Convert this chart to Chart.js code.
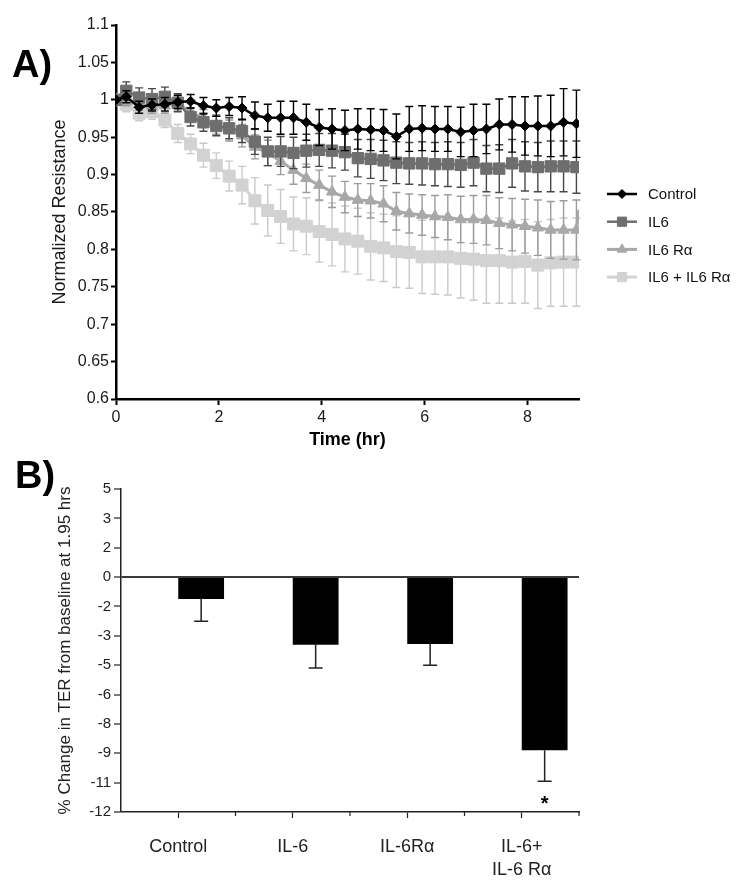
<!DOCTYPE html>
<html>
<head>
<meta charset="utf-8">
<script src="https://cdn.jsdelivr.net/npm/chart.js@4.4.1/dist/chart.umd.min.js"></script>
<style>
  body { margin:0; background:#fff; width:750px; height:890px; position:relative; overflow:hidden; font-family:"Liberation Sans", Arial, sans-serif; }
  canvas { position:absolute; left:0; }
  #chartA { top:0; }
  #chartB { top:455px; }
  .panel { position:absolute; font-weight:bold; font-size:38px; line-height:38px; color:#000; }
</style>
</head>
<body>
<canvas id="chartA" width="750" height="455"></canvas>
<canvas id="chartB" width="750" height="435"></canvas>
<div class="panel" style="left:12px;top:45px">A)</div>
<div class="panel" style="left:15px;top:456px">B)</div>
<script>
// ---- panel A data (normalized resistance over time) ----
const times = [0, 0.2, 0.45, 0.7, 0.95, 1.2, 1.45, 1.7, 1.95, 2.2, 2.45, 2.7, 2.95, 3.2, 3.45, 3.7, 3.95,
  4.2, 4.45, 4.7, 4.95, 5.2, 5.45, 5.7, 5.95, 6.2, 6.45, 6.7, 6.95, 7.2, 7.45, 7.7, 7.95, 8.2, 8.45, 8.7, 8.95];

const control = [1.000, 1.004, 0.990, 0.993, 0.994, 0.997, 0.998, 0.992, 0.989, 0.991, 0.989, 0.979, 0.976,
  0.976, 0.976, 0.970, 0.963, 0.961, 0.959, 0.961, 0.960, 0.959, 0.951, 0.961, 0.962, 0.961, 0.961, 0.957,
  0.959, 0.961, 0.967, 0.967, 0.965, 0.965, 0.965, 0.970, 0.968];
const controlErr = [0, 0.008, 0.008, 0.008, 0.009, 0.009, 0.009, 0.011, 0.011, 0.012, 0.015, 0.018, 0.018,
  0.022, 0.022, 0.024, 0.024, 0.027, 0.027, 0.027, 0.028, 0.028, 0.030, 0.030, 0.030, 0.030, 0.030, 0.033,
  0.035, 0.033, 0.034, 0.037, 0.039, 0.040, 0.041, 0.045, 0.045];

const il6 = [1.000, 1.012, 1.003, 1.001, 1.004, 0.996, 0.977, 0.970, 0.965, 0.962, 0.958, 0.944, 0.931,
  0.931, 0.929, 0.932, 0.933, 0.932, 0.930, 0.922, 0.921, 0.919, 0.916, 0.915, 0.915, 0.914, 0.914, 0.913,
  0.916, 0.908, 0.908, 0.915, 0.911, 0.910, 0.911, 0.911, 0.910];
const il6Err = [0, 0.012, 0.013, 0.014, 0.013, 0.012, 0.012, 0.012, 0.013, 0.014, 0.015, 0.017, 0.019,
  0.020, 0.021, 0.022, 0.022, 0.023, 0.024, 0.025, 0.026, 0.027, 0.028, 0.028, 0.029, 0.029, 0.030, 0.030,
  0.031, 0.031, 0.032, 0.032, 0.033, 0.033, 0.034, 0.034, 0.035];

const il6Ra = [1.000, 0.998, 0.994, 0.991, 0.992, 0.995, 0.984, 0.975, 0.967, 0.959, 0.952, 0.937, 0.929,
  0.918, 0.906, 0.895, 0.886, 0.877, 0.870, 0.866, 0.865, 0.861, 0.851, 0.848, 0.846, 0.844, 0.843, 0.840,
  0.840, 0.839, 0.835, 0.833, 0.831, 0.829, 0.826, 0.826, 0.826];
const il6RaErr = [0, 0.006, 0.008, 0.009, 0.010, 0.010, 0.011, 0.012, 0.013, 0.014, 0.015, 0.016, 0.017,
  0.018, 0.019, 0.019, 0.020, 0.021, 0.021, 0.022, 0.023, 0.024, 0.025, 0.026, 0.027, 0.028, 0.030, 0.031,
  0.032, 0.033, 0.034, 0.035, 0.036, 0.037, 0.038, 0.039, 0.040];
// the IL6 Ra trace ends with a short upward tick at 9 h (no marker)
const il6RaTailTime = 9.0;
const il6RaTailValue = 0.853;

const combo = [1.000, 0.994, 0.982, 0.984, 0.973, 0.955, 0.941, 0.926, 0.912, 0.898, 0.886, 0.865, 0.852,
  0.844, 0.834, 0.831, 0.824, 0.820, 0.814, 0.811, 0.804, 0.802, 0.797, 0.796, 0.790, 0.790, 0.790, 0.788,
  0.787, 0.785, 0.785, 0.783, 0.784, 0.779, 0.782, 0.783, 0.783];
const comboErr = [0, 0.010, 0.010, 0.010, 0.010, 0.012, 0.013, 0.016, 0.017, 0.020, 0.025, 0.031, 0.034,
  0.036, 0.036, 0.038, 0.041, 0.042, 0.044, 0.044, 0.045, 0.045, 0.048, 0.048, 0.049, 0.050, 0.051, 0.053,
  0.055, 0.057, 0.057, 0.055, 0.056, 0.058, 0.058, 0.059, 0.059];

// ---- panel B data (% change in TER at 1.95 h) ----
const categories = ['Control', 'IL-6', 'IL-6R\u03b1', ['IL-6+', 'IL-6 R\u03b1']];
const pctChange = [-1.5, -3.6, -3.55, -8.9];
const pctError = [1.0, 1.5, 1.45, 2.0];
const significant = [false, false, false, true];
// the original axis has evenly spaced ticks with these (uneven) labels
const tickLabelsB = [5, 3, 2, 0, -2, -3, -5, -6, -8, -9, -11, -12];

const FONT = '"Liberation Sans", Arial, sans-serif';
Chart.defaults.font.family = FONT;
Chart.defaults.color = '#1a1a1a';

// ---------- panel A ----------
const pts = (vals) => vals.map((v, i) => ({ x: times[i], y: v }));

const raPoints = pts(il6Ra);
raPoints.push({ x: il6RaTailTime, y: il6RaTailValue });
const raRadius = il6Ra.map(() => 6.5).concat([0]);

const datasetsA = [
  { label: 'Control', data: pts(control), errors: controlErr, borderColor: '#000000', backgroundColor: '#000000',
    errorColor: '#000000', pointStyle: 'rectRot', pointRadius: 5, borderWidth: 2.5, legendRadius: 4.5 },
  { label: 'IL6', data: pts(il6), errors: il6Err, borderColor: '#6e6e6e', backgroundColor: '#6e6e6e',
    errorColor: '#484848', pointStyle: 'rect', pointRadius: 8, borderWidth: 2.5, legendRadius: 6.5 },
  { label: 'IL6 R\u03b1', data: raPoints, errors: il6RaErr.concat([0]), borderColor: '#a8a8a8', backgroundColor: '#a8a8a8',
    errorColor: '#9c9c9c', pointStyle: 'triangle', pointRadius: raRadius, borderWidth: 3, legendRadius: 5.5 },
  { label: 'IL6 + IL6 R\u03b1', data: pts(combo), errors: comboErr, borderColor: '#d2d2d2', backgroundColor: '#d2d2d2',
    errorColor: '#cacaca', pointStyle: 'rect', pointRadius: 8.5, borderWidth: 3, legendRadius: 6.5 }
];
datasetsA.forEach(d => { d.tension = 0; d.pointBorderWidth = 1; d.pointHoverRadius = d.pointRadius; });

const errorBarsA = {
  id: 'errorBarsA',
  beforeDatasetDraw(chart, args) {
    const ds = chart.data.datasets[args.index];
    const { ctx, scales: { x, y } } = chart;
    ctx.save();
    ctx.strokeStyle = ds.errorColor;
    ctx.lineWidth = 1.4;
    ds.data.forEach((p, i) => {
      const e = ds.errors[i];
      if (!e) return;
      const px = x.getPixelForValue(p.x);
      const top = y.getPixelForValue(p.y + e);
      const bot = y.getPixelForValue(p.y - e);
      ctx.beginPath();
      ctx.moveTo(px, top); ctx.lineTo(px, bot);
      ctx.moveTo(px - 4, top); ctx.lineTo(px + 4, top);
      ctx.moveTo(px - 4, bot); ctx.lineTo(px + 4, bot);
      ctx.stroke();
    });
    ctx.restore();
  }
};

const legendA = {
  id: 'legendA',
  afterDraw(chart) {
    const { ctx } = chart;
    chart.data.datasets.forEach((ds, i) => {
      const y = 194 + i * 27.7;
      ctx.save();
      ctx.strokeStyle = ds.borderColor;
      ctx.lineWidth = ds.borderWidth;
      ctx.beginPath(); ctx.moveTo(607, y); ctx.lineTo(637, y); ctx.stroke();
      ctx.fillStyle = ds.backgroundColor;
      ctx.strokeStyle = ds.backgroundColor;
      ctx.lineWidth = 1;
      Chart.helpers.drawPoint(ctx, { pointStyle: ds.pointStyle, radius: ds.legendRadius, rotation: 0, borderWidth: 1 }, 622, y);
      ctx.fillStyle = '#111';
      ctx.font = '15px ' + FONT;
      ctx.textBaseline = 'middle';
      ctx.fillText(ds.label, 648, y + 1);
      ctx.restore();
    });
  }
};

new Chart(document.getElementById('chartA'), {
  type: 'line',
  data: { datasets: datasetsA },
  plugins: [errorBarsA, legendA],
  options: {
    responsive: false, animation: false, devicePixelRatio: 1,
    layout: { padding: { left: 0, right: 171, top: 25, bottom: 0 } },
    plugins: { legend: { display: false }, tooltip: { enabled: false } },
    scales: {
      x: {
        type: 'linear', min: 0, max: 9,
        afterFit: s => { s.height = 56; },
        ticks: { stepSize: 2, includeBounds: false, font: { size: 16 }, padding: 3, maxRotation: 0 },
        grid: { drawOnChartArea: false, tickLength: 6, tickColor: '#000', tickWidth: 2 },
        border: { color: '#000', width: 2.5 },
        title: { display: true, text: 'Time (hr)', color: '#000', font: { size: 18, weight: 'bold' }, padding: { top: 0, bottom: 4 } }
      },
      y: {
        min: 0.6, max: 1.1,
        afterFit: s => { s.width = 116; },
        ticks: { stepSize: 0.05, font: { size: 16 }, padding: 2, callback: v => String(+v.toFixed(2)) },
        grid: { drawOnChartArea: false, tickLength: 5, tickColor: '#000', tickWidth: 2 },
        border: { color: '#000', width: 2.5 },
        title: { display: true, text: 'Normalized Resistance', font: { size: 18 }, padding: { top: 49, bottom: 0 } }
      }
    }
  }
});

// ---------- panel B ----------
const zeroIdx = tickLabelsB.indexOf(0);
// map a percent value onto the evenly spaced tick positions of the original axis
function toAxis(v) {
  for (let i = 0; i < tickLabelsB.length - 1; i++) {
    const a = tickLabelsB[i], b = tickLabelsB[i + 1];
    if (v <= a && v >= b) return (zeroIdx - i) - (a - v) / (a - b);
  }
  return v > tickLabelsB[0] ? zeroIdx : zeroIdx - tickLabelsB.length + 1;
}

const errorBarsB = {
  id: 'errorBarsB',
  afterDatasetsDraw(chart) {
    const { ctx, scales: { x, y } } = chart;
    const meta = chart.getDatasetMeta(1);
    ctx.save();
    ctx.strokeStyle = '#222';
    ctx.lineWidth = 1.5;
    meta.data.forEach((bar, i) => {
      const end = y.getPixelForValue(toAxis(pctChange[i] - pctError[i]));
      ctx.beginPath();
      ctx.moveTo(bar.x, bar.y); ctx.lineTo(bar.x, end);
      ctx.moveTo(bar.x - 7, end); ctx.lineTo(bar.x + 7, end);
      ctx.stroke();
      if (significant[i]) {
        ctx.fillStyle = '#000';
        ctx.font = 'bold 20px ' + FONT;
        ctx.textAlign = 'center';
        ctx.textBaseline = 'alphabetic';
        ctx.fillText('*', bar.x, end + 29);
      }
    });
    // minor tick marks between categories
    const half = (x.getPixelForValue(1) - x.getPixelForValue(0)) / 2;
    ctx.lineWidth = 1.2;
    categories.forEach((c, i) => {
      const px = x.getPixelForValue(i) + half;
      ctx.beginPath(); ctx.moveTo(px, x.top); ctx.lineTo(px, x.top + 4); ctx.stroke();
    });
    ctx.restore();
  }
};

new Chart(document.getElementById('chartB'), {
  type: 'bar',
  data: {
    labels: categories,
    datasets: [
      // empty partner series: the plotted bars sit in the right half of each cluster
      { label: '', data: categories.map(() => null), backgroundColor: '#000' },
      { label: '% change', data: pctChange.map(toAxis), backgroundColor: '#000', borderColor: '#333', borderWidth: 0 }
    ]
  },
  plugins: [errorBarsB],
  options: {
    responsive: false, animation: false, devicePixelRatio: 1,
    categoryPercentage: 0.8, barPercentage: 1.0,
    layout: { padding: { left: 0, right: 171, top: 34, bottom: 0 } },
    plugins: { legend: { display: false }, tooltip: { enabled: false } },
    scales: {
      x: {
        type: 'category', offset: true,
        afterFit: s => { s.height = 78; },
        ticks: { font: { size: 18, lineHeight: 1.3 }, padding: 17, maxRotation: 0, autoSkip: false, color: '#222' },
        grid: { drawOnChartArea: false, offset: false, tickLength: 6, tickColor: '#222', tickWidth: 1.2 },
        border: { color: '#222', width: 1.5 }
      },
      y: {
        min: zeroIdx - tickLabelsB.length + 1, max: zeroIdx,
        afterFit: s => { s.width = 121; },
        ticks: { stepSize: 1, font: { size: 15 }, padding: 3, color: '#222', callback: v => String(tickLabelsB[zeroIdx - v]) },
        grid: {
          color: c => (c.tick && c.tick.value === 0 ? '#3a3a3a' : 'rgba(0,0,0,0)'),
          lineWidth: c => (c.tick && c.tick.value === 0 ? 2 : 0),
          tickLength: 7, tickColor: '#222', tickWidth: 1.2
        },
        border: { color: '#222', width: 1.5 },
        title: { display: true, text: '% Change in TER from baseline at 1.95 hrs', color: '#222', font: { size: 17 }, padding: { top: 55, bottom: 0 } }
      }
    }
  }
});
</script>
</body>
</html>
